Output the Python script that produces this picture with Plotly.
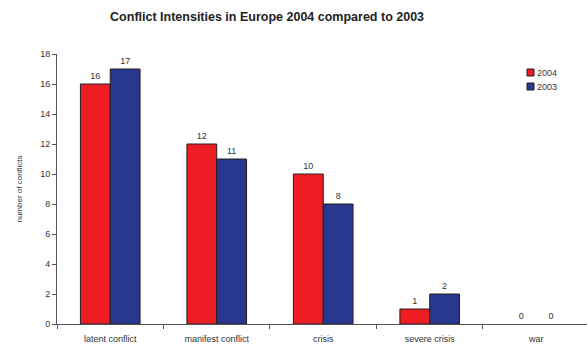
import plotly.graph_objects as go

categories = ["latent conflict", "manifest conflict", "crisis", "severe crisis", "war"]
values_2004 = [16, 12, 10, 1, 0]
values_2003 = [17, 11, 8, 2, 0]
y_ticks = [0, 2, 4, 6, 8, 10, 12, 14, 16, 18]
series = [("2004", values_2004, "#EE1D24"), ("2003", values_2003, "#283891")]

EDGE = "#231F20"
FONT = "Liberation Sans, Arial, sans-serif"
TXT = "#333333"

# plot-area geometry in pixels (used only for placing the hand-drawn legend)
L, R, T, B = 57, 587, 54, 324


def px_x(x):
    return (x - L) / (R - L)


def px_y(y):
    return (B - y) / (B - T)


fig = go.Figure()
for name, vals, col in series:
    fig.add_trace(go.Bar(
        x=categories, y=vals, name=name, showlegend=False,
        marker=dict(color=col,
                    line=dict(color=EDGE, width=[1 if v > 0 else 0 for v in vals])),
        text=[str(v) for v in vals], textposition="outside",
        textfont=dict(family=FONT, size=9, color=TXT),
        cliponaxis=False,
    ))

# compact legend: small bordered swatch with the label right next to it
shapes, annotations = [], []
for i, (name, _, col) in enumerate(series):
    yc = 72.5 + 14 * i
    shapes.append(dict(type="rect", xref="paper", yref="paper",
                       x0=px_x(527), x1=px_x(534), y0=px_y(yc + 3.5), y1=px_y(yc - 3.5),
                       fillcolor=col, line=dict(color=EDGE, width=1)))
    annotations.append(dict(text=name, xref="paper", yref="paper",
                            x=px_x(535), y=px_y(yc), xanchor="left", yanchor="middle",
                            showarrow=False, font=dict(family=FONT, size=9, color=TXT)))

fig.update_layout(
    width=587, height=345,
    margin=dict(l=L, r=587 - R, t=T, b=345 - B),
    paper_bgcolor="white", plot_bgcolor="white",
    barmode="group", bargap=0.44, bargroupgap=0,
    title=dict(text="<b>Conflict Intensities in Europe 2004 compared to 2003</b>",
               x=0.455, xanchor="center", y=0.952, yanchor="middle",
               font=dict(family=FONT, size=12.5, color="#222222")),
    font=dict(family=FONT, size=9, color=TXT),
    shapes=shapes, annotations=annotations,
    xaxis=dict(range=[-0.5, 4.477], showline=True, linecolor="#555555", linewidth=1,
               ticks="outside", ticklen=4, tickcolor="#555555",
               tickson="boundaries", showgrid=False, ticklabelstandoff=6,
               tickfont=dict(family=FONT, size=9, color=TXT)),
    yaxis=dict(range=[0, 18], tickvals=y_ticks, showline=True, linecolor="#555555",
               linewidth=1, ticks="outside", ticklen=4, tickcolor="#555555",
               showgrid=False, zeroline=False,
               tickfont=dict(family=FONT, size=9, color=TXT),
               title=dict(text="number of conflicts", standoff=16,
                          font=dict(family=FONT, size=8, color=TXT))),
)

fig.write_html("out.html")
